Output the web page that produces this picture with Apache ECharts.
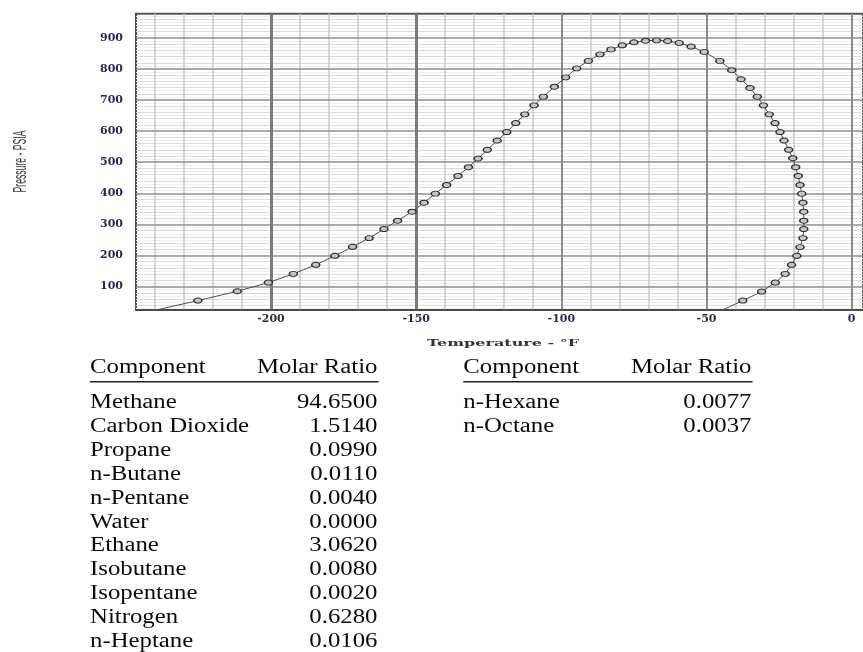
<!DOCTYPE html>
<html>
<head>
<meta charset="utf-8">
<script src="https://cdn.jsdelivr.net/npm/echarts@6/dist/echarts.min.js"></script>
<style>
  html, body { margin: 0; padding: 0; background: #fff; }
  #chart { width: 863px; height: 652px; }
</style>
</head>
<body>
<div id="chart"></div>
<script>
// phase envelope points (first and last are where the line leaves the plot)
var tempF = [
  -238.5, -225.2, -211.6, -200.9, -192.3, -184.6, -178.0, -171.9, -166.2, -161.1,
  -156.4, -151.4, -147.3, -143.4, -139.5, -135.6, -132.0, -128.7, -125.5, -122.1,
  -118.8, -115.7, -112.6, -109.4, -106.2, -102.4, -98.5, -94.7, -90.7, -86.7,
  -82.9, -79.0, -75.0, -71.0, -67.2, -63.4, -59.4, -55.3, -50.8, -45.4,
  -41.3, -38.1, -35.0, -32.5, -30.4, -28.4, -26.4, -24.7, -23.3, -21.7,
  -20.3, -19.3, -18.4, -17.8, -17.2, -16.8, -16.5, -16.5, -16.5, -16.8,
  -17.8, -18.9, -20.7, -22.9, -26.3, -31.0, -37.5, -44.0
];
var pressurePsia = [
  27, 55, 85, 113, 141, 170, 199, 228, 256, 285,
  312, 341, 370, 399, 427, 456, 484, 512, 540, 570,
  597, 626, 654, 683, 711, 743, 773, 802, 826, 847,
  863, 876, 886, 891, 892, 890, 884, 872, 855, 826,
  796, 767, 739, 711, 683, 654, 626, 597, 570, 540,
  513, 484, 456, 427, 399, 370, 341, 312, 285, 256,
  227, 199, 170, 141, 113, 84, 55, 27
];

var xTickLabels = [-200, -150, -100, -50, 0];
var yTickLabels = [100, 200, 300, 400, 500, 600, 700, 800, 900];

var componentsLeft = ["Methane", "Carbon Dioxide", "Propane", "n-Butane", "n-Pentane", "Water",
  "Ethane", "Isobutane", "Isopentane", "Nitrogen", "n-Heptane"];
var ratiosLeft = ["94.6500", "1.5140", "0.0990", "0.0110", "0.0040", "0.0000",
  "3.0620", "0.0080", "0.0020", "0.6280", "0.0106"];
var componentsRight = ["n-Hexane", "n-Octane"];
var ratiosRight = ["0.0077", "0.0037"];

var chart = echarts.init(document.getElementById("chart"));

// graph-paper grid lines, drawn light first so the heavy ones stay on top
function solid(color, width) {
  return { type: "solid", color: color, width: width };
}
var hMinor = [], vMinor = [], hMajor = [], vMajor = [];
for (var p = 30; p <= 970; p += 10) {
  if (p % 100 == 0) hMajor.push({ yAxis: p, lineStyle: solid("#8f8f8f", 1.5) });
  else if (p % 20 == 0) hMinor.push({ yAxis: p, lineStyle: solid("#dadada", 1) });
  else hMinor.push({ yAxis: p, lineStyle: solid("#f0f0f0", 1) });
}
for (var v = -240; v <= 0; v += 10) {
  if (v == -200 || v == -150) vMajor.push({ xAxis: v, lineStyle: solid("#7a7a7a", 3) });
  else if (v % 50 == 0) vMajor.push({ xAxis: v, lineStyle: solid("#8a8a8a", 2) });
  else vMinor.push({ xAxis: v, lineStyle: solid("#c8c8c8", 1.5) });
}
var gridLines = hMinor.concat(vMinor, hMajor, vMajor);

var last = tempF.length - 1;
var curveData = tempF.map(function (t, i) {
  var item = { value: [t, pressurePsia[i]] };
  if (i == 0 || i == last) item.symbol = "none";
  return item;
});

// tables under the chart
var SERIF = "'Liberation Serif', 'Times New Roman', serif";
var STRETCH = 1.24;
var ROW0 = 403, ROWH = 23.87;
var graphics = [];

function addTable(left, right, names, ratios) {
  graphics.push({ type: "text", x: left, y: 367.5, scaleX: STRETCH,
    style: { text: "Component", font: "20px " + SERIF, fill: "#0a0a0a", align: "left", verticalAlign: "middle" } });
  graphics.push({ type: "text", x: right, y: 367.5, scaleX: STRETCH,
    style: { text: "Molar Ratio", font: "20px " + SERIF, fill: "#0a0a0a", align: "right", verticalAlign: "middle" } });
  graphics.push({ type: "line", shape: { x1: left, y1: 381.7, x2: right + 1, y2: 381.7 },
    style: { stroke: "#222", lineWidth: 1.6 } });
  for (var i = 0; i < names.length; i++) {
    var y = ROW0 + i * ROWH;
    graphics.push({ type: "text", x: left, y: y, scaleX: STRETCH,
      style: { text: names[i], font: "20px " + SERIF, fill: "#0a0a0a", align: "left", verticalAlign: "middle" } });
    graphics.push({ type: "text", x: right, y: y, scaleX: STRETCH,
      style: { text: ratios[i], font: "20px " + SERIF, fill: "#0a0a0a", align: "right", verticalAlign: "middle" } });
  }
}
addTable(90, 377.5, componentsLeft, ratiosLeft);
addTable(463.3, 751.5, componentsRight, ratiosRight);

// axis titles
graphics.push({ type: "text", x: 21, y: 161.5, rotation: Math.PI / 2, scaleX: 0.455,
  style: { text: "Pressure - PSIA", font: "19px 'Liberation Sans', Arial, sans-serif", fill: "#333",
    align: "center", verticalAlign: "middle" } });
graphics.push({ type: "text", x: 503, y: 343, scaleX: 1.6,
  style: { text: "Temperature - °F", font: "bold 10px 'DejaVu Serif', serif", fill: "#333",
    align: "center", verticalAlign: "middle" } });

var tickFont = { fontFamily: "DejaVu Serif", fontWeight: "bold", fontSize: 11, color: "#2b2b4f" };

var option = {
  animation: false,
  backgroundColor: "#fff",
  grid: { left: 136, right: 0, top: 13.7, bottom: 342.7, show: true, borderColor: "#555", borderWidth: 2 },
  xAxis: {
    type: "value", min: -246.5, max: 3.9,
    splitLine: { show: false },
    axisTick: { show: false },
    axisLine: { show: true, onZero: false, lineStyle: { color: "#4a4a4a", width: 2 } },
    axisLabel: Object.assign({ customValues: xTickLabels, margin: 4 }, tickFont)
  },
  yAxis: {
    type: "value", min: 27, max: 977.8,
    splitLine: { show: false },
    axisTick: { show: false },
    axisLine: { show: true, onZero: false, lineStyle: { color: "#4a4a4a", width: 2 } },
    axisLabel: Object.assign({ customValues: yTickLabels, margin: 13 }, tickFont)
  },
  series: [
    {
      type: "scatter", data: [], silent: true, z: 1,
      markLine: {
        silent: true, z: 1, symbol: ["none", "none"], label: { show: false }, animation: false,
        lineStyle: { type: "solid" }, data: gridLines
      }
    },
    {
      type: "line", data: curveData, z: 10,
      showAllSymbol: true, symbol: "circle", symbolSize: [8, 5],
      lineStyle: { color: "#505050", width: 1 },
      itemStyle: { color: "#c4c4c4", borderColor: "#2a2a2a", borderWidth: 1.2 }
    }
  ],
  graphic: graphics
};
chart.setOption(option);
</script>
</body>
</html>
